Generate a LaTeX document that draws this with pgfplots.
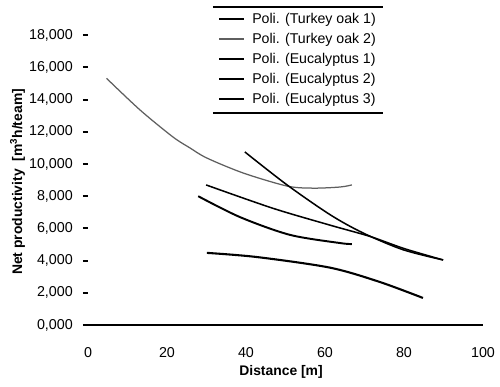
\documentclass[border=0pt]{standalone}
\usepackage{pgfplots}
\pgfplotsset{compat=1.18}
\usepackage{fontspec}
\setmainfont{Liberation Sans}
\definecolor{tgray}{RGB}{95,95,95}
\begin{document}
\begin{tikzpicture}
\useasboundingbox (-63.36pt,-44.64pt) rectangle (296.64pt,234pt);
\begin{axis}[
  at={(0pt,0pt)}, anchor=south west,
  scale only axis, width=284.4pt, height=231.84pt,
  xmin=0, xmax=100, ymin=0, ymax=20000,
  axis x line*=bottom, axis y line*=left,
  x axis line style={line width=1.4pt},
  y axis line style={draw=none},
  xtick={0,20,40,60,80,100}, xticklabels={0,20,40,60,80,100},
  xtick style={draw=none},
  ytick={0,2000,4000,6000,8000,10000,12000,14000,16000,18000},
  yticklabels={{0,000},{2,000},{4,000},{6,000},{8,000},{10,000},{12,000},{14,000},{16,000},{18,000}},
  ytick style={line width=1.4pt, black},
  tick align=outside, major tick length=3.6pt,
  /pgf/number format/assume math mode=true,
  tick label style={font=\fontsize{10.3}{12.5}\selectfont},
  xticklabel style={yshift=-8.9pt},
  yticklabel style={xshift=-3.8pt},
  legend style={at={(axis cs:32.9,19400)}, anchor=north west, draw=none, fill=none,
    inner sep=0pt, row sep=5.5pt, column sep=5pt,
    font=\fontsize{10.2}{12}\selectfont, nodes={inner sep=0pt}},
  legend cell align=left,
  legend image code/.code={\draw[#1] (0pt,0pt) -- (18pt,0pt);},
]
\addplot[black, line width=1.5pt, smooth] coordinates {
 (30.1,4480) (42.8,4220) (61.3,3560) (73.9,2670) (84.8,1680)};
\addlegendentry{Poli. (Turkey oak 1)}
\addplot[tgray, line width=0.9pt, smooth] coordinates {
 (4.7,15320) (13.2,13350) (21.5,11680) (25.8,11000) (30.1,10370) (39.3,9440) (50.4,8630) (57,8500) (63.8,8570) (66.8,8700)};
\addlegendentry{Poli. (Turkey oak 2)}
\addplot[black, line width=1.4pt, smooth] coordinates {
 (27.9,8000) (38.5,6700) (51.1,5600) (63.8,5090) (66.8,5030)};
\addlegendentry{Poli. (Eucalyptus 1)}
\addplot[black, line width=1.1pt, smooth] coordinates {
 (29.9,8700) (46.8,7250) (61.3,6200) (71.4,5500) (80,4750) (89.9,4040)};
\addlegendentry{Poli. (Eucalyptus 2)}
\addplot[black, line width=1.1pt, smooth] coordinates {
 (39.7,10750) (50.4,8700) (61.3,6850) (69.6,5720) (79.7,4680) (89.9,4040)};
\addlegendentry{Poli. (Eucalyptus 3)}
\draw[line width=1.4pt] (axis cs:31.6,19750) -- (axis cs:74.7,19750);
\draw[line width=1.4pt] (axis cs:31.6,13170) -- (axis cs:74.7,13170);
\end{axis}
\node[anchor=base, font=\fontsize{10}{12}\selectfont\bfseries] at (139pt,-36.7pt) {Distance [m]};
\node[anchor=base, rotate=90, font=\fontsize{10}{12}\selectfont\bfseries] at (-47.5pt,103pt) {Net productivity\ \ [m\textsuperscript{3}h/team]};
\end{tikzpicture}
\end{document}
